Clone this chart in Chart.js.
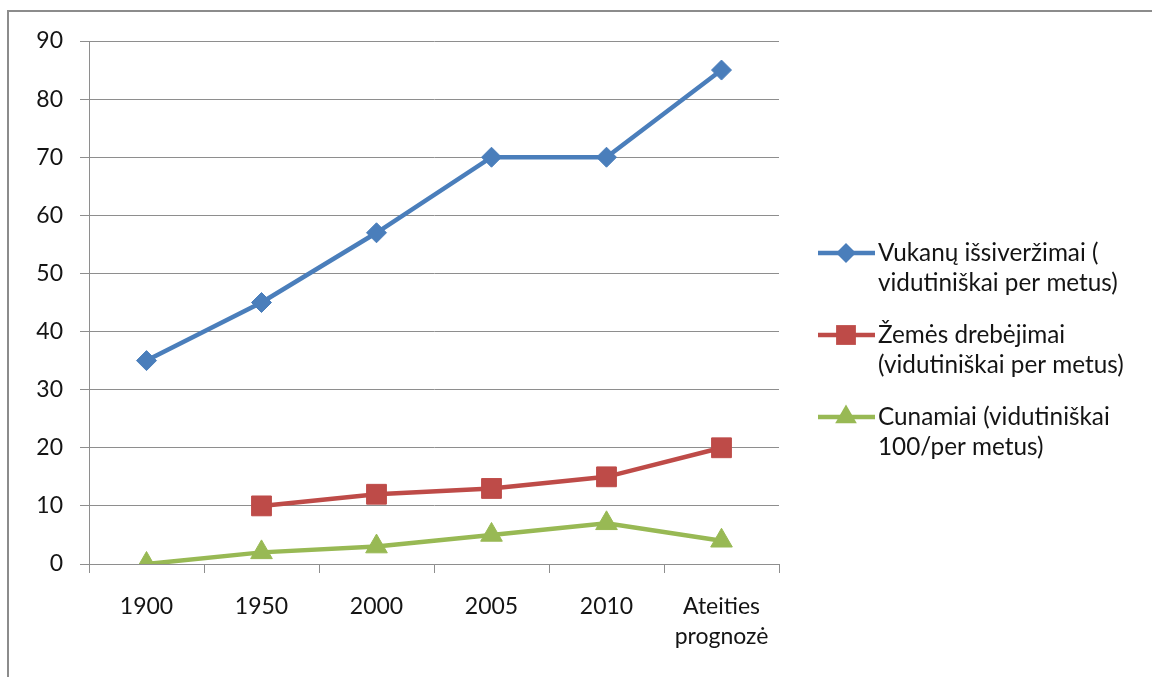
<!DOCTYPE html>
<html>
<head>
<meta charset="utf-8">
<script src="https://cdn.jsdelivr.net/npm/chart.js@4"></script>
<style>
    body { margin: 0; background: #fff; }
    #wrap { position: relative; width: 1152px; height: 677px; overflow: hidden; }
    #frame { position: absolute; left: 7px; top: 10px; width: 1200px; height: 700px;
             border-left: 2px solid #8c8c8c; border-top: 2px solid #8c8c8c; }
    #chart { position: absolute; left: 0; top: 0; }
</style>
</head>
<body>
<div id="wrap">
    <div id="frame"></div>
    <canvas id="chart" width="1152" height="677"></canvas>
</div>
<script>
const categories = ['1900', '1950', '2000', '2005', '2010', ['Ateities', 'prognozė']];
const volcanoes = [35, 45, 57, 70, 70, 85];
const earthquakes = [null, 10, 12, 13, 15, 20];
const tsunamis = [0, 2, 3, 5, 7, 4];
const seriesNames = [
    ['Vukanų išsiveržimai (', 'vidutiniškai per metus)'],
    ['Žemės drebėjimai', '(vidutiniškai per metus)'],
    ['Cunamiai (vidutiniškai', '100/per metus)']
];

const fontFamily = 'Lato, "Open Sans", sans-serif';
const gridColor = '#8e8e8e';
const textColor = '#141414';

function drawMarker(ctx, style, r, x, y) {
    ctx.beginPath();
    if (style === 'rectRot') {
        ctx.moveTo(x - r, y);
        ctx.lineTo(x, y - r);
        ctx.lineTo(x + r, y);
        ctx.lineTo(x, y + r);
    } else if (style === 'rect') {
        const s = Math.SQRT1_2 * r;
        ctx.rect(x - s, y - s, 2 * s, 2 * s);
    } else {
        const w = r * Math.sin(Math.PI / 3);
        ctx.moveTo(x, y - r);
        ctx.lineTo(x + w, y + r / 2);
        ctx.lineTo(x - w, y + r / 2);
    }
    ctx.closePath();
    ctx.fill();
}

// legend on the right, line + marker + two-line label
const sideLegend = {
    id: 'sideLegend',
    afterDraw(chart) {
        const ctx = chart.ctx;
        const left = 818, top = 253, gap = 82, lineH = 30;
        chart.data.datasets.forEach((ds, i) => {
            const y = top + i * gap;
            ctx.save();
            ctx.strokeStyle = ds.borderColor;
            ctx.fillStyle = ds.backgroundColor;
            ctx.lineWidth = ds.borderWidth;
            ctx.beginPath();
            ctx.moveTo(left, y);
            ctx.lineTo(left + 57, y);
            ctx.stroke();
            drawMarker(ctx, ds.pointStyle, ds.pointRadius, left + 28, y);
            ctx.fillStyle = textColor;
            ctx.font = '24.3px ' + fontFamily;
            ctx.textBaseline = 'middle';
            ctx.textAlign = 'left';
            seriesNames[i].forEach((t, j) => ctx.fillText(t, left + 60, y + j * lineH));
            ctx.restore();
        });
    }
};

const lineSet = (label, data, color, style, radius) => ({
    label,
    data,
    borderColor: color,
    backgroundColor: color,
    borderWidth: 4.5,
    pointStyle: style,
    pointRadius: radius,
    pointHoverRadius: radius,
    pointBorderWidth: 1,
    tension: 0
});

new Chart(document.getElementById('chart'), {
    type: 'line',
    data: {
        labels: categories,
        datasets: [
            lineSet(seriesNames[0].join(' '), volcanoes, '#4a7ebb', 'rectRot', 10),
            lineSet(seriesNames[1].join(' '), earthquakes, '#be4b48', 'rect', 14),
            lineSet(seriesNames[2].join(' '), tsunamis, '#98b954', 'triangle', 12.5)
        ]
    },
    options: {
        responsive: false,
        animation: false,
        devicePixelRatio: 1,
        layout: { padding: { left: 0, top: 41, right: 373, bottom: 0 } },
        plugins: {
            legend: { display: false },
            tooltip: { enabled: false }
        },
        scales: {
            x: {
                offset: true,
                grid: { offset: true, drawOnChartArea: false, color: gridColor, tickLength: 9 },
                border: { color: gridColor },
                ticks: { color: textColor, padding: 19, font: { family: fontFamily, size: 23, lineHeight: 1.3 } },
                afterFit: s => { s.height = 113; }
            },
            y: {
                min: 0,
                max: 90,
                ticks: { stepSize: 10, color: textColor, padding: 17, font: { family: fontFamily, size: 23 } },
                grid: { color: gridColor, tickLength: 9 },
                border: { color: gridColor },
                afterFit: s => { s.width = 89; }
            }
        }
    },
    plugins: [sideLegend]
});
</script>
</body>
</html>
